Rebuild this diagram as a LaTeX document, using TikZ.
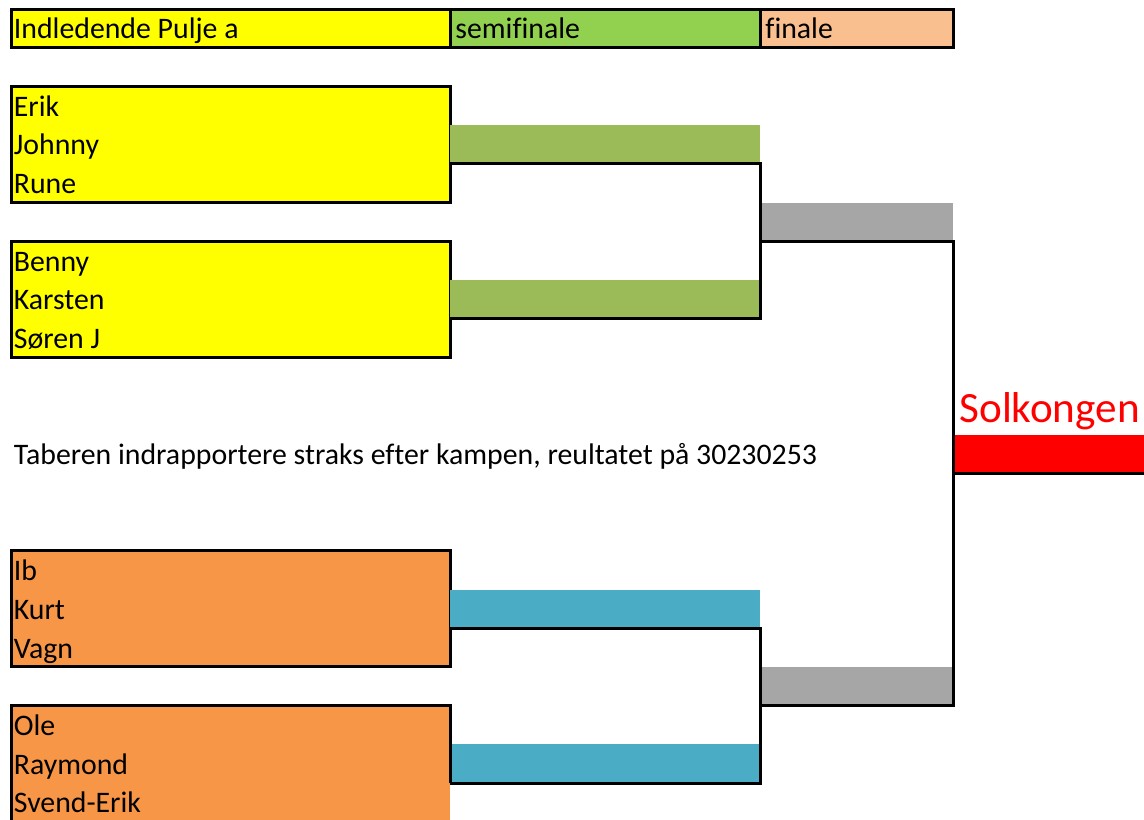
\documentclass[tikz,border=0pt]{standalone}
\usepackage{fontspec}
\setmainfont{Carlito}[Ligatures=NoCommon]
\definecolor{puljegul}{HTML}{FFFF00}
\definecolor{semigron}{HTML}{92D050}
\definecolor{finalefersken}{HTML}{F9BF8F}
\definecolor{bargron}{HTML}{9BBB59}
\definecolor{puljeorange}{HTML}{F79646}
\definecolor{barblaa}{HTML}{4BACC6}
\definecolor{bargraa}{HTML}{A6A6A6}
\tikzset{
  cell/.style={anchor=north west, inner sep=0pt, outer sep=0pt, minimum height=19.35pt},
  kant/.style={draw=black, line width=1.5pt},
  navn/.style={anchor=base west, inner sep=0pt, font=\fontsize{14.9}{17}\selectfont},
}

\begin{document}
\begin{tikzpicture}[x=0.5pt, y=-19.35pt]
				\useasboundingbox (0,-0.2326) rectangle (1144,20.93);
				\node[cell, kant, fill=puljegul, minimum width=219.5pt] (hpulje) at (11,0) {};
				\node[cell, kant, fill=semigron, minimum width=155pt] (hsemi) at (450,0) {};
				\node[cell, kant, fill=finalefersken, minimum width=96.5pt] (hfinale) at (760,0) {};
				\node[navn] (thpulje) at (13.5,0.77) {Indledende Pulje a};
				\node[navn] (thsemi) at (455,0.77) {semifinale};
				\node[navn] (thfinale) at (765,0.77) {finale};

				\node[cell, kant, fill=puljegul, minimum width=219.5pt, minimum height=58.05pt] (puljeA) at (11,2) {};
				\node[cell, kant, fill=puljegul, minimum width=219.5pt, minimum height=58.05pt] (puljeB) at (11,6) {};
				\node[cell, kant, fill=puljeorange, minimum width=219.5pt, minimum height=58.05pt] (puljeC) at (11,14) {};
				\node[cell, fill=puljeorange, minimum width=219.5pt, minimum height=58.05pt] (puljeD) at (11,18) {};

				\node[cell, fill=bargron, minimum width=155pt] (semiA) at (450,3) {};
				\node[cell, fill=bargron, minimum width=155pt] (semiB) at (450,7) {};
				\node[cell, fill=barblaa, minimum width=155pt] (semiC) at (450,15) {};
				\node[cell, fill=barblaa, minimum width=155pt] (semiD) at (450,19) {};
				\node[cell, fill=bargraa, minimum width=96.5pt] (finA) at (760,5) {};
				\node[cell, fill=bargraa, minimum width=96.5pt] (finB) at (760,17) {};
				\node[cell, fill=red, minimum width=96pt] (vinder) at (953,11) {};

				\draw[kant] (puljeD.south west) -- (puljeD.north west) -- (puljeD.north east) -- (semiD.south west);
				\draw[kant] (semiA.south west) -- (semiA.south east) -- (semiB.south east) -- (semiB.south west);
				\draw[kant] (semiC.south west) -- (semiC.south east) -- (semiD.south east) -- (semiD.south west);
				\draw[kant] (finA.south west) -- (finA.south east) -- (finB.south east) -- (finB.south west);
				\draw[kant] (vinder.south west) -- (vinder.south east);

				\node[navn] (erik) at (13.5,2.77) {Erik};
				\node[navn] (johnny) at (13.5,3.77) {Johnny};
				\node[navn] (rune) at (13.5,4.77) {Rune};
				\node[navn] (benny) at (13.5,6.77) {Benny};
				\node[navn] (karsten) at (13.5,7.77) {Karsten};
				\node[navn] (sorenj) at (13.5,8.77) {Søren J};
				\node[navn] (ib) at (13.5,14.77) {Ib};
				\node[navn] (kurt) at (13.5,15.77) {Kurt};
				\node[navn] (vagn) at (13.5,16.77) {Vagn};
				\node[navn] (ole) at (13.5,18.77) {Ole};
				\node[navn] (raymond) at (13.5,19.77) {Raymond};
				\node[navn] (svenderik) at (13.5,20.77) {Svend-Erik};

				\node[navn] (taberen) at (13.5,11.77) {Taberen indrapportere straks efter kampen, reultatet på 30230253};
				\node[navn, text=red, font=\fontsize{21.6}{24}\selectfont] (solkongen) at (959,10.69) {Solkongen};
\end{tikzpicture}
\end{document}
